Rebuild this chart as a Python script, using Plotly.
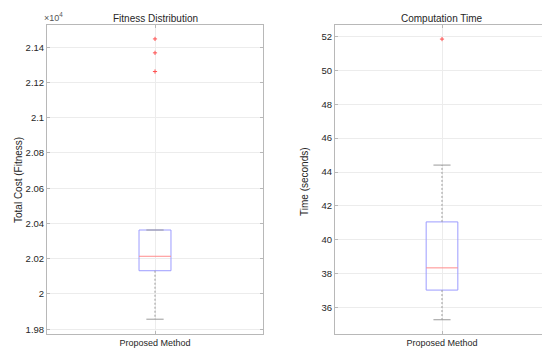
import plotly.graph_objects as go

# ---------------- data ----------------
category = ["Proposed Method"]

# Fitness (Total Cost), raw units
fit_q1 = 20132
fit_median = 20214
fit_q3 = 20363
fit_lower_whisker = 19857
fit_upper_whisker = 20363
fit_outliers = [21447, 21368, 21262]
fit_tickvals = [19800, 20000, 20200, 20400, 20600, 20800, 21000, 21200, 21400]
fit_ticktext = ["1.98", "2", "2.02", "2.04", "2.06", "2.08", "2.1", "2.12", "2.14"]

# Computation time (seconds)
time_q1 = 37.04
time_median = 38.35
time_q3 = 41.06
time_lower_whisker = 35.29
time_upper_whisker = 44.41
time_outliers = [51.84]
time_tickvals = [36, 38, 40, 42, 44, 46, 48, 50, 52]
time_ticktext = ["36", "38", "40", "42", "44", "46", "48", "50", "52"]

# ---------------- style ----------------
FONT = "Liberation Sans, Arial, sans-serif"
TXT = "#262626"
BOX_C = "#9c9cff"
MED_C = "#ff8c8c"
WH_C = "#9a9a9a"
GRID_C = "#ececec"
AX_C = "#b8b8b8"
HALF_W = 0.074
CAP_W = 0.04
POS = 1

fig = go.Figure()


def add_box(xa, ya, q1, med, q3, lw, uw, outs):
    c = POS
    # box
    fig.add_trace(go.Scatter(
        x=[c - HALF_W, c + HALF_W, c + HALF_W, c - HALF_W, c - HALF_W],
        y=[q1, q1, q3, q3, q1], mode="lines",
        line=dict(color=BOX_C, width=1), xaxis=xa, yaxis=ya,
        showlegend=False, hoverinfo="skip"))
    # whiskers (dashed)
    fig.add_trace(go.Scatter(
        x=[c, c, None, c, c], y=[q3, uw, None, q1, lw], mode="lines",
        line=dict(color=WH_C, width=1, dash="2px,2px"), xaxis=xa, yaxis=ya,
        showlegend=False, hoverinfo="skip"))
    # caps
    fig.add_trace(go.Scatter(
        x=[c - CAP_W, c + CAP_W, None, c - CAP_W, c + CAP_W],
        y=[uw, uw, None, lw, lw], mode="lines",
        line=dict(color=WH_C, width=1), xaxis=xa, yaxis=ya,
        showlegend=False, hoverinfo="skip"))
    # median
    fig.add_trace(go.Scatter(
        x=[c - HALF_W, c + HALF_W], y=[med, med], mode="lines",
        line=dict(color=MED_C, width=1), xaxis=xa, yaxis=ya,
        showlegend=False, hoverinfo="skip"))
    # outliers
    fig.add_trace(go.Scatter(
        x=[c] * len(outs), y=outs, mode="markers",
        marker=dict(symbol="cross-thin", size=3,
                    line=dict(color="#ff5050", width=1)),
        xaxis=xa, yaxis=ya, showlegend=False, hoverinfo="skip"))


add_box("x", "y", fit_q1, fit_median, fit_q3, fit_lower_whisker,
        fit_upper_whisker, fit_outliers)
add_box("x2", "y2", time_q1, time_median, time_q3, time_lower_whisker,
        time_upper_whisker, time_outliers)

W, H = 550, 348
L1, R1 = 39, 255
L2, R2 = 327, 541
T, B = 17, 326


def px_x(v):
    return v / W


def px_y(v):
    return 1 - v / H


xcommon = dict(range=[0.5, 1.5], tickvals=[POS], ticktext=category,
               showgrid=True, gridcolor=GRID_C, gridwidth=1,
               showline=True, linecolor=AX_C, linewidth=1, mirror="ticks",
               ticks="inside", ticklen=3, tickcolor=AX_C, zeroline=False,
               tickfont=dict(family=FONT, size=9, color=TXT))
ycommon = dict(showgrid=True, gridcolor=GRID_C, gridwidth=1,
               showline=True, linecolor=AX_C, linewidth=1, mirror="ticks",
               ticks="inside", ticklen=3, tickcolor=AX_C, zeroline=False,
               tickfont=dict(family=FONT, size=9.5, color=TXT))

ann = dict(xref="paper", yref="paper", showarrow=False,
           xanchor="center", yanchor="middle")

fig.update_layout(
    width=W, height=H,
    margin=dict(l=0, r=0, t=0, b=0),
    paper_bgcolor="white", plot_bgcolor="white",
    xaxis=dict(domain=[px_x(L1), px_x(R1)], anchor="y", **xcommon),
    yaxis=dict(domain=[px_y(B), px_y(T)], anchor="x",
               range=[19773, 21526], tickvals=fit_tickvals,
               ticktext=fit_ticktext, **ycommon),
    xaxis2=dict(domain=[px_x(L2), px_x(R2)], anchor="y2", **xcommon),
    yaxis2=dict(domain=[px_y(B), px_y(T)], anchor="x2",
                range=[34.45, 52.67], tickvals=time_tickvals,
                ticktext=time_ticktext, **ycommon),
    annotations=[
        dict(text="Fitness Distribution", x=px_x((L1 + R1) / 2), y=px_y(10),
             font=dict(family=FONT, size=10, color=TXT), **ann),
        dict(text="Computation Time", x=px_x((L2 + R2) / 2), y=px_y(10),
             font=dict(family=FONT, size=10, color=TXT), **ann),
        dict(text="Total Cost (Fitness)", x=px_x(11), y=px_y(172),
             textangle=-90,
             font=dict(family=FONT, size=10, color=TXT), **ann),
        dict(text="Time (seconds)", x=px_x(296), y=px_y(174),
             textangle=-90,
             font=dict(family=FONT, size=10, color=TXT), **ann),
        dict(text="×10<sup>4</sup>", x=px_x(34), y=px_y(9),
             xref="paper", yref="paper", showarrow=False, xanchor="left",
             yanchor="middle",
             font=dict(family=FONT, size=9, color="#555555")),
    ],
)

fig.write_html("out.html")
